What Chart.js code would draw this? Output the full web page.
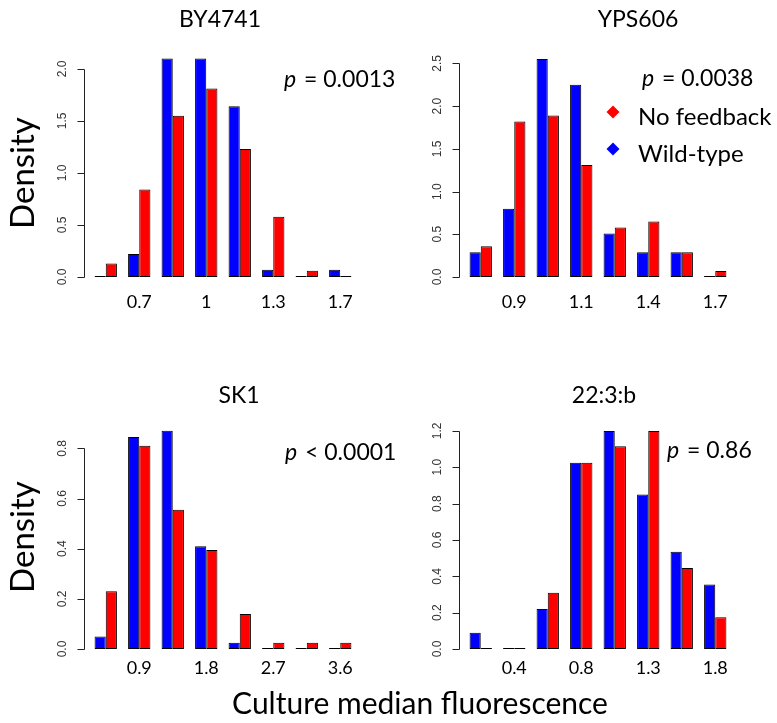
<!DOCTYPE html>
<html>
<head>
<meta charset="utf-8">
<title>Culture median fluorescence</title>
<script src="https://cdn.jsdelivr.net/npm/chart.js@4.4.1/dist/chart.umd.min.js"></script>
<style>
body{margin:0;background:#fff;}
#page{position:relative;width:777px;height:723px;overflow:hidden;}
#page canvas{position:absolute;}
#xtitle{position:absolute;left:0;width:840px;top:684px;text-align:center;font:30px Lato;line-height:36px;color:#000;white-space:nowrap;}
</style>
</head>
<body>
<div id="page">
  <canvas id="c1" width="420" height="317" style="left:0;top:0"></canvas>
  <canvas id="c2" width="402" height="317" style="left:375px;top:0"></canvas>
  <canvas id="c3" width="420" height="317" style="left:0;top:372px"></canvas>
  <canvas id="c4" width="402" height="317" style="left:375px;top:372px"></canvas>
  <div id="xtitle">Culture median fluorescence</div>
</div>
<script>

// ---------------------
// DATA (density per bin, 8 bins per strain)
// ---------------------

const by4741Bins=["","0.7","","1","","1.3","","1.7"];
const by4741WildType=[0,0.22,2.1,2.1,1.64,0.07,0,0.07];
const by4741NoFeedback=[0.13,0.84,1.55,1.81,1.23,0.58,0.06,0];
const by4741Ticks=[0,0.5,1,1.5,2];

const yps606Bins=["","0.9","","1.1","","1.4","","1.7"];
const yps606WildType=[0.29,0.8,2.55,2.25,0.51,0.29,0.29,0];
const yps606NoFeedback=[0.36,1.82,1.89,1.31,0.58,0.65,0.29,0.07];
const yps606Ticks=[0,0.5,1,1.5,2,2.5];

const sk1Bins=["","0.9","","1.8","","2.7","","3.6"];
const sk1WildType=[0.05,0.845,0.87,0.41,0.025,0,0,0];
const sk1NoFeedback=[0.23,0.81,0.555,0.395,0.14,0.025,0.025,0.025];
const sk1Ticks=[0,0.2,0.4,0.6,0.8];

const s223bBins=["","0.4","","0.8","","1.3","","1.8"];
const s223bWildType=[0.09,0,0.22,1.025,1.2,0.85,0.535,0.355];
const s223bNoFeedback=[0,0,0.31,1.025,1.115,1.2,0.445,0.175];
const s223bTicks=[0,0.2,0.4,0.6,0.8,1,1.2];

const seriesNames=["Wild-type","No feedback"];

// ---------------------
// PLUGINS
// ---------------------

// R style y axis: line from first to last tick, rotated labels
const densityAxis={
    id:"densityAxis",
    afterDraw(chart,args,opts){
        const ctx=chart.ctx;
        const y=chart.scales.y;
        const x0=Math.round(chart.chartArea.left-5)+0.5;
        const ticks=opts.ticks;
        ctx.save();
        ctx.strokeStyle="#222";
        ctx.lineWidth=1;
        ctx.beginPath();
        ctx.moveTo(x0,Math.round(y.getPixelForValue(ticks[0]))+0.5);
        ctx.lineTo(x0,Math.round(y.getPixelForValue(ticks[ticks.length-1]))+0.5);
        ticks.forEach(t=>{
            const py=Math.round(y.getPixelForValue(t))+0.5;
            ctx.moveTo(x0-7,py);
            ctx.lineTo(x0,py);
        });
        ctx.stroke();
        ctx.fillStyle="#333";
        ctx.font="12px 'Liberation Sans'";
        ctx.textAlign="center";
        ctx.textBaseline="middle";
        ticks.forEach(t=>{
            ctx.save();
            ctx.translate(x0-22,y.getPixelForValue(t));
            ctx.rotate(-Math.PI/2);
            ctx.fillText(t.toFixed(1),0,0);
            ctx.restore();
        });
        ctx.restore();
    }
};

// panel title, p value, legend and Density label
const panelText={
    id:"panelText",
    afterDraw(chart,args,o){
        const ctx=chart.ctx;
        ctx.save();
        ctx.fillStyle="#000";
        ctx.textBaseline="alphabetic";

        ctx.font="23px Lato";
        ctx.textAlign="center";
        ctx.fillText(o.title,o.titleX,o.titleY);

        ctx.textAlign="left";
        ctx.font="italic 23px Lato";
        ctx.fillText("p",o.pX,o.pY);
        const pw=ctx.measureText("p").width;
        ctx.font="23px Lato";
        ctx.fillText(" "+o.pText,o.pX+pw+2,o.pY);

        if(o.density){
            ctx.save();
            ctx.font="33px Lato";
            ctx.textAlign="center";
            ctx.translate(34,o.densityY);
            ctx.rotate(-Math.PI/2);
            ctx.fillText("Density",0,0);
            ctx.restore();
        }

        if(o.legend){
            const sets=[chart.data.datasets[1],chart.data.datasets[0]];
            ctx.font="24px Lato";
            sets.forEach((ds,i)=>{
                const cy=o.legend.y[i];
                ctx.fillStyle=ds.backgroundColor;
                ctx.beginPath();
                ctx.moveTo(o.legend.x,cy-6.5);
                ctx.lineTo(o.legend.x+6.5,cy);
                ctx.lineTo(o.legend.x,cy+6.5);
                ctx.lineTo(o.legend.x-6.5,cy);
                ctx.closePath();
                ctx.fill();
                ctx.fillStyle="#000";
                ctx.fillText(ds.label,o.legend.textX,cy+13);
            });
        }
        ctx.restore();
    }
};

// ---------------------
// CHARTS
// ---------------------

function renderPanel(id,bins,wildType,noFeedback,ticks,yMax,tickPad,text){

    const canvas=document.getElementById(id);

    new Chart(canvas,{
        type:"bar",
        data:{
            labels:bins,
            datasets:[
                {label:seriesNames[0],data:wildType,backgroundColor:"#0000ff"},
                {label:seriesNames[1],data:noFeedback,backgroundColor:"#ff0000"}
            ]
        },
        options:{
            responsive:false,
            animation:false,
            devicePixelRatio:1,
            layout:{padding:{left:89,right:canvas.width-89-268,top:48,bottom:0}},
            datasets:{bar:{
                barPercentage:1,
                categoryPercentage:0.667,
                borderColor:"#000",
                borderWidth:1,
                borderSkipped:false,
                minBarLength:1
            }},
            scales:{
                x:{
                    offset:true,
                    grid:{display:false,drawTicks:false},
                    border:{display:false},
                    ticks:{autoSkip:false,maxRotation:0,padding:tickPad,color:"#000",font:{family:"Lato",size:18}},
                    afterFit:s=>{s.height=40;}
                },
                y:{display:false,min:0,max:yMax}
            },
            plugins:{
                legend:{display:false},
                tooltip:{enabled:false},
                densityAxis:{ticks:ticks},
                panelText:text
            }
        },
        plugins:[densityAxis,panelText]
    });

}

renderPanel("c1",by4741Bins,by4741WildType,by4741NoFeedback,by4741Ticks,2.2,14,
    {title:"BY4741",titleX:220,titleY:27,pText:"= 0.0013",pX:284,pY:87,density:true,densityY:173});

renderPanel("c2",yps606Bins,yps606WildType,yps606NoFeedback,yps606Ticks,2.68,14,
    {title:"YPS606",titleX:263,titleY:27,pText:"= 0.0038",pX:267,pY:86,
     legend:{x:238,textX:263,y:[112,149]}});

renderPanel("c3",sk1Bins,sk1WildType,sk1NoFeedback,sk1Ticks,0.913,8,
    {title:"SK1",titleX:239,titleY:31,pText:"< 0.0001",pX:285,pY:88,density:true,densityY:165});

renderPanel("c4",s223bBins,s223bWildType,s223bNoFeedback,s223bTicks,1.26,8,
    {title:"22:3:b",titleX:229,titleY:31,pText:"= 0.86",pX:292,pY:86});

</script>
</body>
</html>
